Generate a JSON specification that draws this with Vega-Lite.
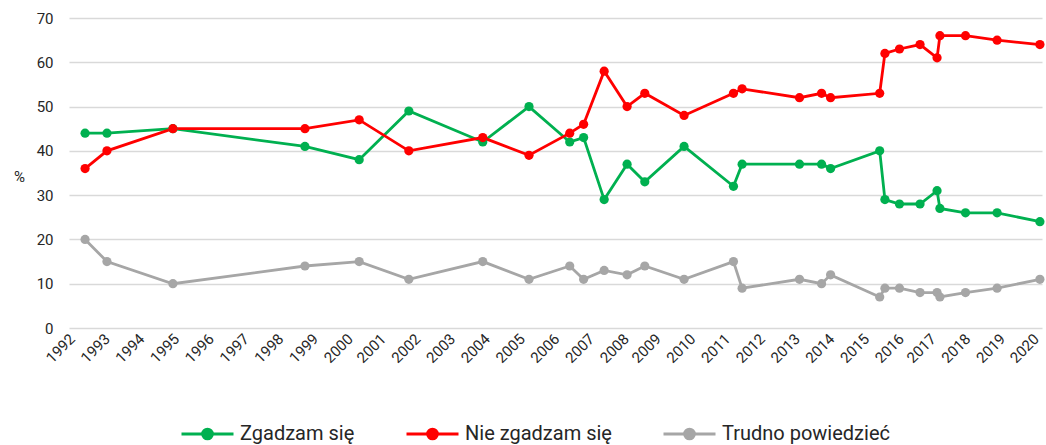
{
  "$schema": "https://vega.github.io/schema/vega-lite/v6.json",
  "autosize": "none",
  "width": 973,
  "height": 310,
  "padding": {"left": 69, "top": 18, "right": 4, "bottom": 117},
  "background": "white",
  "config": {
    "view": {"stroke": null},
    "font": "Roboto"
  },
  "data": {
    "values": [
      {"data": "1992-06-18", "seria": "Trudno powiedzieć", "wartosc": 20},
      {"data": "1993-02-03", "seria": "Trudno powiedzieć", "wartosc": 15},
      {"data": "1994-12-28", "seria": "Trudno powiedzieć", "wartosc": 10},
      {"data": "1998-10-16", "seria": "Trudno powiedzieć", "wartosc": 14},
      {"data": "2000-05-08", "seria": "Trudno powiedzieć", "wartosc": 15},
      {"data": "2001-10-12", "seria": "Trudno powiedzieć", "wartosc": 11},
      {"data": "2003-11-28", "seria": "Trudno powiedzieć", "wartosc": 15},
      {"data": "2005-03-28", "seria": "Trudno powiedzieć", "wartosc": 11},
      {"data": "2006-05-30", "seria": "Trudno powiedzieć", "wartosc": 14},
      {"data": "2006-10-23", "seria": "Trudno powiedzieć", "wartosc": 11},
      {"data": "2007-05-27", "seria": "Trudno powiedzieć", "wartosc": 13},
      {"data": "2008-01-23", "seria": "Trudno powiedzieć", "wartosc": 12},
      {"data": "2008-07-27", "seria": "Trudno powiedzieć", "wartosc": 14},
      {"data": "2009-09-13", "seria": "Trudno powiedzieć", "wartosc": 11},
      {"data": "2011-02-14", "seria": "Trudno powiedzieć", "wartosc": 15},
      {"data": "2011-05-16", "seria": "Trudno powiedzieć", "wartosc": 9},
      {"data": "2013-01-08", "seria": "Trudno powiedzieć", "wartosc": 11},
      {"data": "2013-08-28", "seria": "Trudno powiedzieć", "wartosc": 10},
      {"data": "2013-12-01", "seria": "Trudno powiedzieć", "wartosc": 12},
      {"data": "2015-05-01", "seria": "Trudno powiedzieć", "wartosc": 7},
      {"data": "2015-06-25", "seria": "Trudno powiedzieć", "wartosc": 9},
      {"data": "2015-11-25", "seria": "Trudno powiedzieć", "wartosc": 9},
      {"data": "2016-06-28", "seria": "Trudno powiedzieć", "wartosc": 8},
      {"data": "2016-12-24", "seria": "Trudno powiedzieć", "wartosc": 8},
      {"data": "2017-01-23", "seria": "Trudno powiedzieć", "wartosc": 7},
      {"data": "2017-10-19", "seria": "Trudno powiedzieć", "wartosc": 8},
      {"data": "2018-09-16", "seria": "Trudno powiedzieć", "wartosc": 9},
      {"data": "2019-12-10", "seria": "Trudno powiedzieć", "wartosc": 11},
      {"data": "1992-06-18", "seria": "Zgadzam się", "wartosc": 44},
      {"data": "1993-02-03", "seria": "Zgadzam się", "wartosc": 44},
      {"data": "1994-12-28", "seria": "Zgadzam się", "wartosc": 45},
      {"data": "1998-10-16", "seria": "Zgadzam się", "wartosc": 41},
      {"data": "2000-05-08", "seria": "Zgadzam się", "wartosc": 38},
      {"data": "2001-10-12", "seria": "Zgadzam się", "wartosc": 49},
      {"data": "2003-11-28", "seria": "Zgadzam się", "wartosc": 42},
      {"data": "2005-03-28", "seria": "Zgadzam się", "wartosc": 50},
      {"data": "2006-05-30", "seria": "Zgadzam się", "wartosc": 42},
      {"data": "2006-10-23", "seria": "Zgadzam się", "wartosc": 43},
      {"data": "2007-05-27", "seria": "Zgadzam się", "wartosc": 29},
      {"data": "2008-01-23", "seria": "Zgadzam się", "wartosc": 37},
      {"data": "2008-07-27", "seria": "Zgadzam się", "wartosc": 33},
      {"data": "2009-09-13", "seria": "Zgadzam się", "wartosc": 41},
      {"data": "2011-02-14", "seria": "Zgadzam się", "wartosc": 32},
      {"data": "2011-05-16", "seria": "Zgadzam się", "wartosc": 37},
      {"data": "2013-01-08", "seria": "Zgadzam się", "wartosc": 37},
      {"data": "2013-08-28", "seria": "Zgadzam się", "wartosc": 37},
      {"data": "2013-12-01", "seria": "Zgadzam się", "wartosc": 36},
      {"data": "2015-05-01", "seria": "Zgadzam się", "wartosc": 40},
      {"data": "2015-06-25", "seria": "Zgadzam się", "wartosc": 29},
      {"data": "2015-11-25", "seria": "Zgadzam się", "wartosc": 28},
      {"data": "2016-06-28", "seria": "Zgadzam się", "wartosc": 28},
      {"data": "2016-12-24", "seria": "Zgadzam się", "wartosc": 31},
      {"data": "2017-01-23", "seria": "Zgadzam się", "wartosc": 27},
      {"data": "2017-10-19", "seria": "Zgadzam się", "wartosc": 26},
      {"data": "2018-09-16", "seria": "Zgadzam się", "wartosc": 26},
      {"data": "2019-12-10", "seria": "Zgadzam się", "wartosc": 24},
      {"data": "1992-06-18", "seria": "Nie zgadzam się", "wartosc": 36},
      {"data": "1993-02-03", "seria": "Nie zgadzam się", "wartosc": 40},
      {"data": "1994-12-28", "seria": "Nie zgadzam się", "wartosc": 45},
      {"data": "1998-10-16", "seria": "Nie zgadzam się", "wartosc": 45},
      {"data": "2000-05-08", "seria": "Nie zgadzam się", "wartosc": 47},
      {"data": "2001-10-12", "seria": "Nie zgadzam się", "wartosc": 40},
      {"data": "2003-11-28", "seria": "Nie zgadzam się", "wartosc": 43},
      {"data": "2005-03-28", "seria": "Nie zgadzam się", "wartosc": 39},
      {"data": "2006-05-30", "seria": "Nie zgadzam się", "wartosc": 44},
      {"data": "2006-10-23", "seria": "Nie zgadzam się", "wartosc": 46},
      {"data": "2007-05-27", "seria": "Nie zgadzam się", "wartosc": 58},
      {"data": "2008-01-23", "seria": "Nie zgadzam się", "wartosc": 50},
      {"data": "2008-07-27", "seria": "Nie zgadzam się", "wartosc": 53},
      {"data": "2009-09-13", "seria": "Nie zgadzam się", "wartosc": 48},
      {"data": "2011-02-14", "seria": "Nie zgadzam się", "wartosc": 53},
      {"data": "2011-05-16", "seria": "Nie zgadzam się", "wartosc": 54},
      {"data": "2013-01-08", "seria": "Nie zgadzam się", "wartosc": 52},
      {"data": "2013-08-28", "seria": "Nie zgadzam się", "wartosc": 53},
      {"data": "2013-12-01", "seria": "Nie zgadzam się", "wartosc": 52},
      {"data": "2015-05-01", "seria": "Nie zgadzam się", "wartosc": 53},
      {"data": "2015-06-25", "seria": "Nie zgadzam się", "wartosc": 62},
      {"data": "2015-11-25", "seria": "Nie zgadzam się", "wartosc": 63},
      {"data": "2016-06-28", "seria": "Nie zgadzam się", "wartosc": 64},
      {"data": "2016-12-24", "seria": "Nie zgadzam się", "wartosc": 61},
      {"data": "2017-01-23", "seria": "Nie zgadzam się", "wartosc": 66},
      {"data": "2017-10-19", "seria": "Nie zgadzam się", "wartosc": 66},
      {"data": "2018-09-16", "seria": "Nie zgadzam się", "wartosc": 65},
      {"data": "2019-12-10", "seria": "Nie zgadzam się", "wartosc": 64}
    ]
  },
  "mark": {
    "type": "line",
    "strokeWidth": 2.8,
    "point": {"filled": true, "size": 85, "opacity": 1}
  },
  "encoding": {
    "x": {
      "field": "data",
      "type": "temporal",
      "scale": {
        "type": "utc",
        "domain": [
          {"year": 1992, "month": 1, "date": 1, "utc": true},
          {"year": 2020, "month": 1, "date": 1, "utc": true}
        ]
      },
      "axis": {
        "title": null,
        "format": "%Y",
        "tickCount": {"interval": "year", "step": 1},
        "labelAngle": -45,
        "labelAlign": "right",
        "labelBaseline": "middle",
        "labelFontSize": 15,
        "labelColor": "#262626",
        "labelPadding": 8,
        "labelOffset": {
          "condition": [
            {"test": "datum.value >= 1577000000000", "value": -6},
            {"test": "datum.value >= 1483228800000", "value": -5},
            {"test": "datum.value >= 1230768000000", "value": -2},
            {"test": "datum.value >= 978307200000", "value": 1}
          ],
          "value": 3
        },
        "labelOverlap": false,
        "labelFlush": false,
        "grid": false,
        "ticks": false,
        "domain": false
      }
    },
    "y": {
      "field": "wartosc",
      "type": "quantitative",
      "scale": {"domain": [0, 70], "nice": false},
      "axis": {
        "title": "%",
        "titleAngle": 0,
        "titleAlign": "center",
        "titleBaseline": "middle",
        "titleX": -50,
        "titleY": 158,
        "titleFontSize": 15,
        "titleFontWeight": "normal",
        "titleColor": "#262626",
        "values": [0, 10, 20, 30, 40, 50, 60, 70],
        "labelFontSize": 15,
        "labelColor": "#262626",
        "labelPadding": 16,
        "ticks": false,
        "tickSize": 0,
        "domain": false,
        "gridColor": "#D9D9D9",
        "gridWidth": 1.3
      }
    },
    "color": {
      "field": "seria",
      "type": "nominal",
      "scale": {
        "domain": ["Zgadzam się", "Nie zgadzam się", "Trudno powiedzieć"],
        "range": ["#00B050", "#FF0000", "#A6A6A6"]
      },
      "legend": {
        "title": null,
        "orient": "none",
        "direction": "horizontal",
        "legendX": 111,
        "legendY": 388,
        "padding": 0,
        "symbolType": "M-1,0H1M-0.19,0A0.19,0.19,0,1,0,0.19,0A0.19,0.19,0,1,0,-0.19,0Z",
        "symbolSize": 2704,
        "symbolStrokeWidth": 2.8,
        "symbolOpacity": 1,
        "labelFontSize": 20,
        "labelColor": "#262626",
        "labelOffset": 5,
        "labelLimit": 0,
        "columnPadding": 45,
        "encode": {
          "symbols": {
            "update": {
              "fill": {"scale": "color", "field": "value"},
              "stroke": {"scale": "color", "field": "value"}
            }
          }
        }
      }
    }
  }
}
